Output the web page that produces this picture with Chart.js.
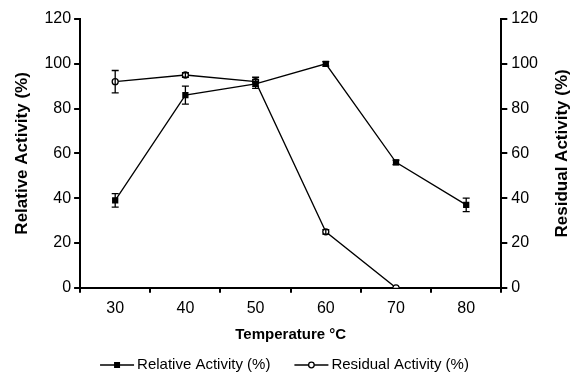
<!DOCTYPE html>
<html>
<head>
<meta charset="utf-8">
<script src="https://cdn.jsdelivr.net/npm/chart.js@4/dist/chart.umd.min.js"></script>
<style>
  html, body { margin: 0; padding: 0; background: #fff; }
  #wrap { width: 577px; height: 379px; }
</style>
</head>
<body>
<div id="wrap"><canvas id="chart" width="577" height="379"></canvas></div>
<script>
// Data
const temperatures = ['30', '40', '50', '60', '70', '80'];
const relativeActivity = [39, 86, 91, 100, 56, 37];
const relativeError = [3, 4, 2, 1, 1, 3];
const residualActivity = [92, 95, 92, 25, 0, null];
const residualError = [5, 1, 2, 1, 0, null];
const yTicks = [0, 20, 40, 60, 80, 100, 120];

const FONT = '"Liberation Sans", Arial, sans-serif';

// Error bars drawn through the chart scales
const errorBars = {
    id: 'errorBars',
    afterDatasetsDraw(chart) {
        const ctx = chart.ctx;
        const yScale = chart.scales.y;
        chart.data.datasets.forEach((ds, i) => {
            const meta = chart.getDatasetMeta(i);
            const errs = ds.errors || [];
            ctx.save();
            ctx.strokeStyle = '#000';
            ctx.lineWidth = 1.3;
            meta.data.forEach((pt, j) => {
                const v = ds.data[j];
                const e = errs[j];
                if (v == null || !e) return;
                const top = yScale.getPixelForValue(v + e);
                const bot = yScale.getPixelForValue(v - e);
                ctx.beginPath();
                ctx.moveTo(pt.x, top); ctx.lineTo(pt.x, bot);
                ctx.moveTo(pt.x - 3.5, top); ctx.lineTo(pt.x + 3.5, top);
                ctx.moveTo(pt.x - 3.5, bot); ctx.lineTo(pt.x + 3.5, bot);
                ctx.stroke();
            });
            ctx.restore();
        });
    }
};

// Right axis title (bottom-to-top) and the line+marker legend underneath
const extras = {
    id: 'extras',
    afterDraw(chart) {
        const ctx = chart.ctx;
        const area = chart.chartArea;
        ctx.save();
        ctx.translate(562, (area.top + area.bottom) / 2);
        ctx.rotate(-Math.PI / 2);
        ctx.font = 'bold 17px ' + FONT;
        ctx.fillStyle = '#000';
        ctx.textAlign = 'center';
        ctx.textBaseline = 'middle';
        ctx.fillText('Residual Activity (%)', 0, 0);
        ctx.restore();

        // legend
        ctx.save();
        ctx.font = '15px ' + FONT;
        ctx.textBaseline = 'middle';
        ctx.fillStyle = '#000';
        ctx.strokeStyle = '#000';
        ctx.lineWidth = 1.3;
        const iconW = 34, gap = 3, itemGap = 24, y = 365;
        const items = chart.data.datasets.map((ds, i) => ({ text: ds.label, filled: i === 0, w: ctx.measureText(ds.label).width }));
        let total = 0;
        items.forEach((it, i) => { total += iconW + gap + it.w + (i ? itemGap : 0); });
        let x = 284.5 - total / 2;
        items.forEach(it => {
            ctx.beginPath();
            ctx.moveTo(x, y); ctx.lineTo(x + iconW, y);
            ctx.stroke();
            const cx = x + iconW / 2;
            if (it.filled) {
                ctx.fillRect(cx - 3, y - 3, 6, 6);
            } else {
                ctx.fillStyle = '#fff';
                ctx.beginPath();
                ctx.arc(cx, y, 2.8, 0, Math.PI * 2);
                ctx.fill();
                ctx.stroke();
                ctx.fillStyle = '#000';
            }
            ctx.textAlign = 'left';
            ctx.fillText(it.text, x + iconW + gap, y);
            x += iconW + gap + it.w + itemGap;
        });
        ctx.restore();
    }
};

Chart.defaults.font.family = FONT;
Chart.defaults.color = '#000';

const tickFont = { size: 16 };

new Chart(document.getElementById('chart'), {
    type: 'line',
    data: {
        labels: temperatures,
        datasets: [
            {
                label: 'Relative Activity (%)',
                data: relativeActivity,
                errors: relativeError,
                borderColor: '#000',
                borderWidth: 1.3,
                backgroundColor: '#000',
                pointStyle: 'rect',
                pointRadius: 3.5,
                pointBorderColor: '#000',
                pointBackgroundColor: '#000',
                yAxisID: 'y'
            },
            {
                label: 'Residual Activity (%)',
                data: residualActivity,
                errors: residualError,
                borderColor: '#000',
                borderWidth: 1.3,
                backgroundColor: '#fff',
                pointStyle: 'circle',
                pointRadius: 3,
                pointBorderColor: '#000',
                pointBackgroundColor: '#fff',
                yAxisID: 'y'
            }
        ]
    },
    options: {
        responsive: false,
        animation: false,
        layout: { padding: { left: 8, right: 35, top: 19, bottom: 33 } },
        plugins: {
            tooltip: { enabled: false },
            legend: { display: false }
        },
        scales: {
            x: {
                type: 'category',
                offset: true,
                grid: { offset: true, drawOnChartArea: false, color: '#000', tickLength: 5, lineWidth: 2 },
                border: { color: '#000', width: 2 },
                ticks: { font: tickFont, padding: 6 },
                title: { display: true, text: 'Temperature \u00B0C', font: { size: 15, weight: 'bold' }, padding: { top: 2, bottom: 2 } }
            },
            y: {
                position: 'left',
                min: 0,
                max: 120,
                afterBuildTicks(axis) { axis.ticks = yTicks.map(v => ({ value: v })); },
                grid: { drawOnChartArea: false, color: '#000', tickLength: 6, lineWidth: 2 },
                border: { color: '#000', width: 2 },
                ticks: { font: tickFont, padding: 3 },
                title: { display: true, text: 'Relative Activity (%)', font: { size: 17, weight: 'bold' }, padding: { top: 4, bottom: 9 } }
            },
            y2: {
                position: 'right',
                min: 0,
                max: 120,
                afterBuildTicks(axis) { axis.ticks = yTicks.map(v => ({ value: v })); },
                grid: { drawOnChartArea: false, color: '#000', tickLength: 6, lineWidth: 2 },
                border: { color: '#000', width: 2 },
                ticks: { font: tickFont, padding: 4 }
            }
        }
    },
    plugins: [errorBars, extras]
});
</script>
</body>
</html>
